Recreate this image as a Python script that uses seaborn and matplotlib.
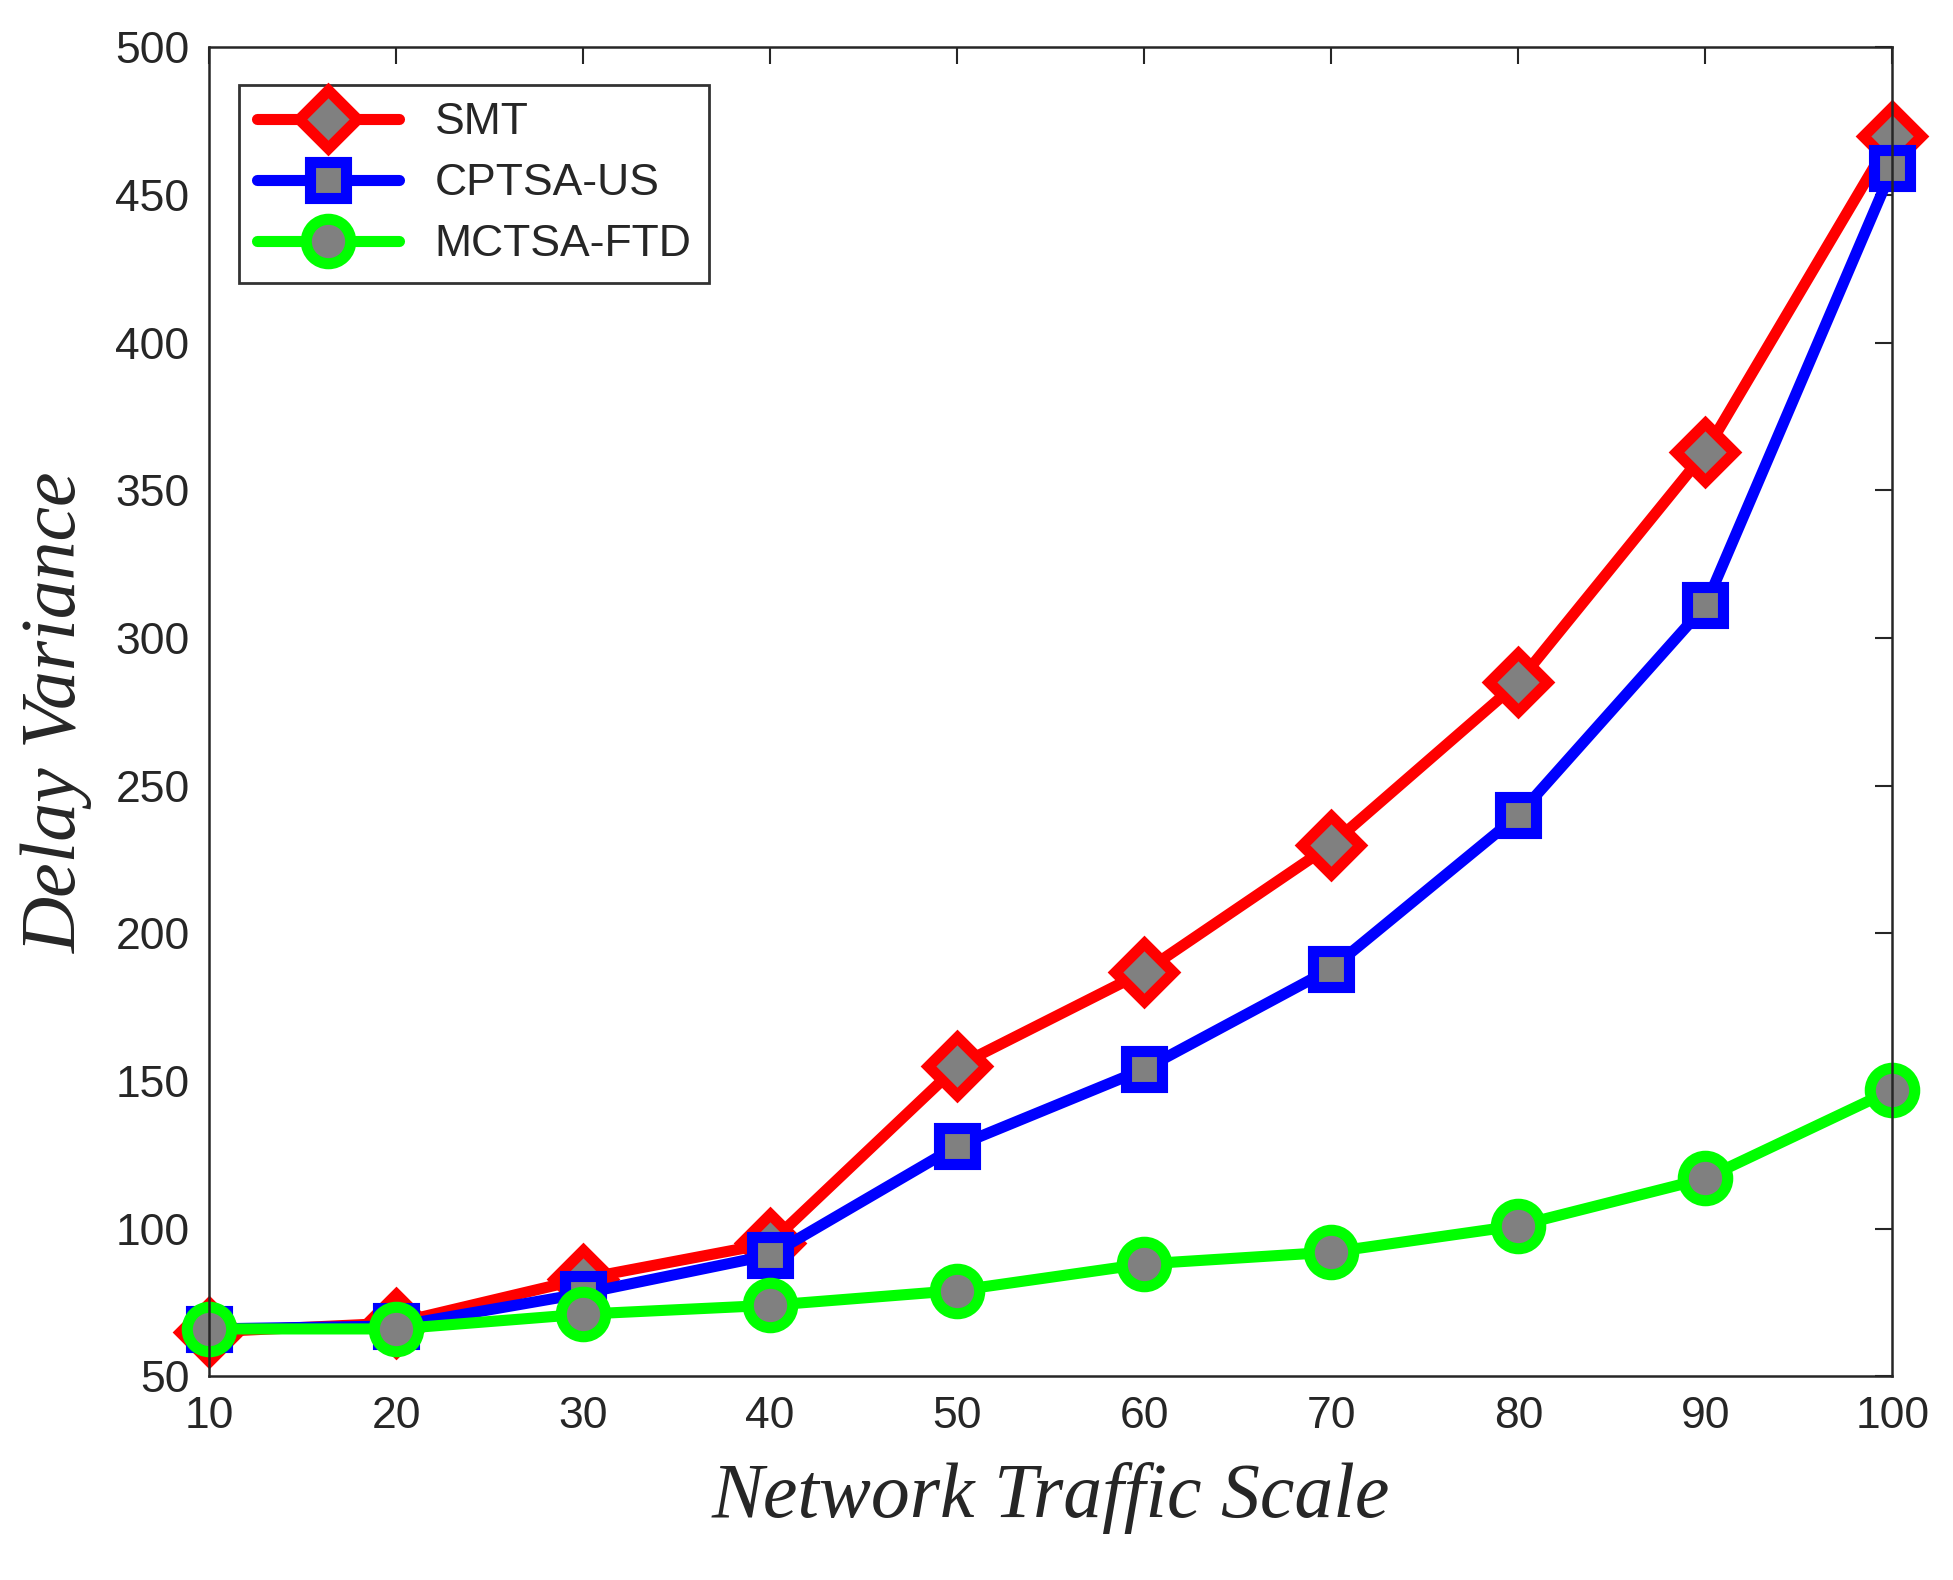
import matplotlib
matplotlib.use("Agg")
import matplotlib.pyplot as plt
import seaborn as sns
import pandas as pd

x = [10, 20, 30, 40, 50, 60, 70, 80, 90, 100]
smt = [65, 68, 83, 95, 155, 187, 230, 285, 363, 470]
cptsa = [66, 67, 78, 91, 128, 154, 188, 240, 311, 459]
mctsa = [66, 66, 71, 74, 79, 88, 92, 101, 117, 147]
names = ["SMT", "CPTSA-US", "MCTSA-FTD"]
colors = ["#ff0000", "#0000ff", "#00ff00"]
markers = ["D", "s", "o"]
msizes = [30, 26, 32]

df = pd.DataFrame({"x": x * 3, "y": smt + cptsa + mctsa,
                   "series": [n for n in names for _ in x]})

sns.set_style("white")
plt.rcParams["font.family"] = "Liberation Sans"
fig = plt.figure(figsize=(19.53, 15.80), dpi=100)
ax = fig.add_axes([0.107, 0.129, 0.862, 0.841])
for n, c, m, s in zip(names, colors, markers, msizes):
    d = df[df.series == n]
    sns.lineplot(data=d, x="x", y="y", ax=ax, color=c, lw=8, marker=m,
                 markersize=s, markerfacecolor="#808080", markeredgecolor=c,
                 markeredgewidth=8, label=n, clip_on=False)
ax.set_xlim(10, 100)
ax.set_ylim(50, 500)
ax.set_xticks(x)
ax.set_yticks(range(50, 501, 50))
ax.tick_params(labelsize=32, direction="in", length=12, width=1.5, top=True, right=True, pad=14,
               labelcolor="#262626")
for sp in ax.spines.values():
    sp.set_linewidth(1.8)
ax.set_xlabel("Network Traffic Scale", fontsize=56, fontstyle="italic", family="Liberation Serif",
              labelpad=18, color="#262626")
ax.set_ylabel("Delay Variance", fontsize=56, fontstyle="italic", family="Liberation Serif",
              labelpad=16, color="#262626")
leg = ax.legend(loc="upper left", fontsize=32, frameon=True, fancybox=False, edgecolor="black",
                handlelength=3.2, bbox_to_anchor=(0.018, 0.972), borderaxespad=0,
                labelspacing=0.45, borderpad=0.4)
leg.get_frame().set_linewidth(2)
fig.savefig("out.png", dpi=100)
